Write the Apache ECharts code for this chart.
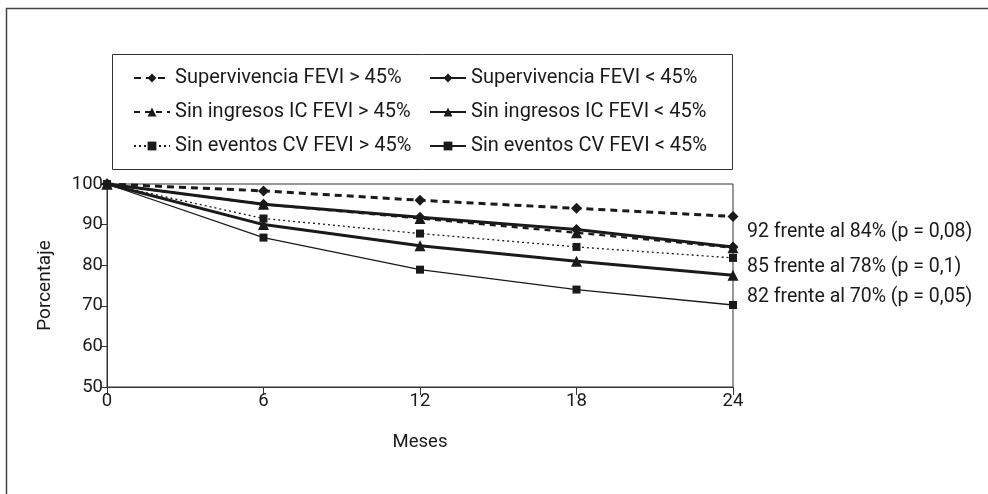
<!DOCTYPE html>
<html>
<head>
<meta charset="utf-8">
<script src="https://cdn.jsdelivr.net/npm/echarts@6/dist/echarts.min.js"></script>
<style>
html,body{margin:0;padding:0;background:#fff;}
#c{width:988px;height:494px;}
</style>
</head>
<body>
<div id="c"></div>
<script>
const months = [0, 6, 12, 18, 24];
const yTicks = [50, 60, 70, 80, 90, 100];
const supAlta = [100, 98.3, 96, 94, 92];
const supBaja = [100, 95, 91.8, 88.8, 84.5];
const ingAlta = [100, 95, 91.5, 88, 84.3];
const ingBaja = [100, 90, 84.8, 81, 77.5];
const evAlta = [100, 91.5, 87.8, 84.5, 81.8];
const evBaja = [100, 86.8, 78.9, 74, 70.2];
const names = [
  'Supervivencia FEVI > 45%', 'Sin ingresos IC FEVI > 45%', 'Sin eventos CV FEVI > 45%',
  'Supervivencia FEVI < 45%', 'Sin ingresos IC FEVI < 45%', 'Sin eventos CV FEVI < 45%'
];
const notes = ['92 frente al 84% (p = 0,08)', '85 frente al 78% (p = 0,1)', '82 frente al 70% (p = 0,05)'];

const FONT = "'Roboto', 'Liberation Sans', sans-serif";
const INK = '#1a1a1a';
function pts(arr) { return months.map((m, i) => [m, arr[i]]); }
function ser(name, arr, type, width, symbol, size) {
  return {
    name: name, type: 'line', data: pts(arr), symbol: symbol, symbolSize: size,
    lineStyle: { color: INK, width: width, type: type },
    itemStyle: { color: INK, borderWidth: 0 },
    emphasis: { disabled: true }, z: 3
  };
}
const chart = echarts.init(document.getElementById('c'), null, { renderer: 'canvas' });
const legendText = { fontFamily: FONT, fontSize: 20, color: INK };
chart.setOption({
  animation: false,
  textStyle: { fontFamily: FONT },
  grid: { left: 107, right: 255, top: 184, bottom: 107, show: true, borderColor: '#333', borderWidth: 1, backgroundColor: 'transparent' },
  legend: [
    { data: names.slice(0, 3), orient: 'vertical', left: 128, top: 63, itemWidth: 36, itemHeight: 11, itemGap: 14, textStyle: legendText, selectedMode: false },
    { data: names.slice(3), orient: 'vertical', left: 424, top: 63, itemWidth: 36, itemHeight: 11, itemGap: 14, textStyle: legendText, selectedMode: false }
  ],
  xAxis: {
    type: 'value', min: 0, max: 24, interval: 6,
    name: 'Meses', nameLocation: 'middle', nameGap: 46,
    nameTextStyle: { fontFamily: FONT, fontSize: 18.5, color: INK },
    axisLine: { lineStyle: { color: '#333', width: 1 } },
    axisTick: { show: true, inside: false, length: 8, lineStyle: { color: '#333' } },
    axisLabel: { fontFamily: FONT, fontSize: 18.5, color: INK, margin: 5, formatter: v => months.includes(v) ? String(v) : '' },
    splitLine: { show: false }
  },
  yAxis: {
    type: 'value', min: 50, max: 100, interval: 10,
    name: 'Porcentaje', nameLocation: 'middle', nameGap: 52, nameRotate: 90,
    nameTextStyle: { fontFamily: FONT, fontSize: 19, color: INK },
    axisLine: { show: true, lineStyle: { color: '#333', width: 1 } },
    axisTick: { show: true, inside: false, length: 6, lineStyle: { color: '#333' } },
    axisLabel: { fontFamily: FONT, fontSize: 18.5, color: INK, margin: 4, formatter: v => yTicks.includes(v) ? String(v) : '' },
    splitLine: { show: false }
  },
  graphic: [
    { type: 'rect', shape: { x: 6.5, y: 8.5, width: 1200, height: 1000 }, style: { fill: 'none', stroke: '#444', lineWidth: 1.5 }, silent: true, z: 0 },
    { type: 'rect', shape: { x: 112.5, y: 54.5, width: 620, height: 115 }, style: { fill: 'none', stroke: '#333', lineWidth: 1 }, silent: true, z: 0 },
    { type: 'text', left: 747, top: 222, style: { text: notes[0], font: "19.5px " + FONT, fill: INK }, silent: true },
    { type: 'text', left: 747, top: 257, style: { text: notes[1], font: "19.5px " + FONT, fill: INK }, silent: true },
    { type: 'text', left: 747, top: 287, style: { text: notes[2], font: "19.5px " + FONT, fill: INK }, silent: true }
  ],
  series: [
    ser(names[0], supAlta, [7, 5], 3, 'diamond', 11),
    ser(names[1], ingAlta, [6, 5], 2.2, 'triangle', 11),
    ser(names[2], evAlta, [2, 3], 1.3, 'rect', 8),
    ser(names[3], supBaja, 'solid', 3, 'diamond', 11),
    ser(names[4], ingBaja, 'solid', 3, 'triangle', 11),
    ser(names[5], evBaja, 'solid', 1.3, 'rect', 8)
  ]
});
</script>
</body>
</html>
